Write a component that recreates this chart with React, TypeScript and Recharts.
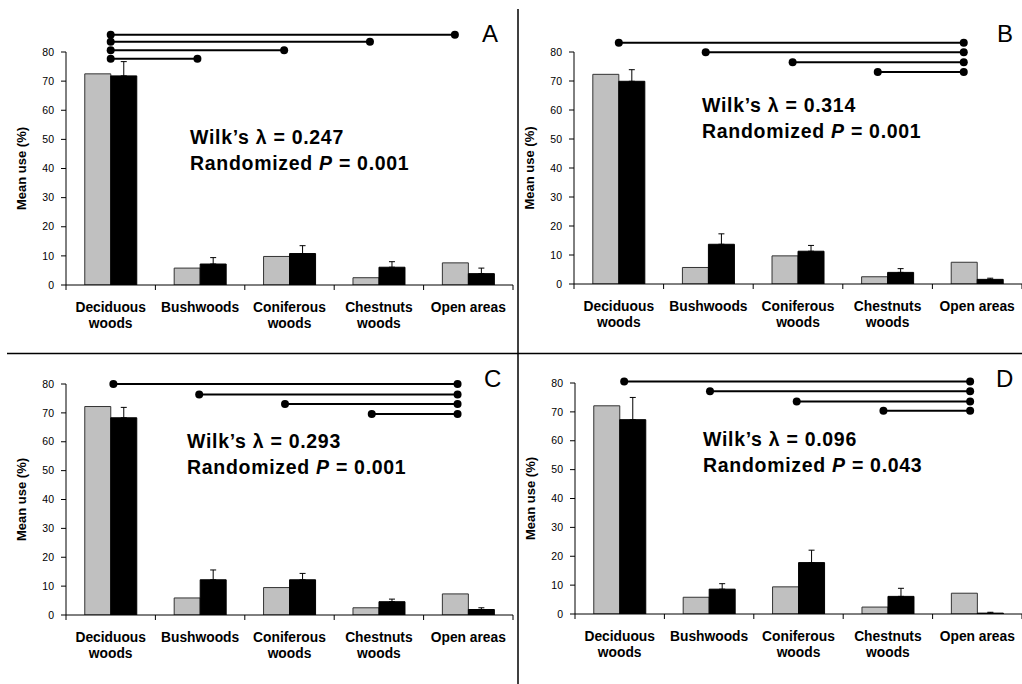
import { BarChart, Bar, XAxis, YAxis, ErrorBar, ScatterChart, ReferenceLine, ReferenceDot } from "recharts"

const FONT = "'Liberation Sans', Arial, sans-serif"

const categories = ["Deciduous woods", "Bushwoods", "Coniferous woods", "Chestnuts woods", "Open areas"]
const tickLines = [["Deciduous", "woods"], ["Bushwoods"], ["Coniferous", "woods"], ["Chestnuts", "woods"], ["Open areas"]]
const yTicks = [0, 10, 20, 30, 40, 50, 60, 70, 80]
const boundaryTicks = [0, 1, 2, 3, 4, 5]

// grey bars = available, black bars = used (+ upper error)
const availableA = [72.5, 5.8, 9.8, 2.5, 7.6]
const usedA = [71.8, 7.2, 10.8, 6.1, 3.9]
const errA = [4.9, 2.2, 2.7, 1.9, 1.9]

const availableB = [72.3, 5.7, 9.7, 2.5, 7.5]
const usedB = [69.9, 13.7, 11.3, 4.0, 1.6]
const errB = [4.0, 3.6, 2.0, 1.3, 0.4]

const availableC = [72.2, 5.9, 9.5, 2.5, 7.3]
const usedC = [68.3, 12.2, 12.2, 4.6, 1.9]
const errC = [3.6, 3.4, 2.2, 0.9, 0.6]

const availableD = [72.1, 5.8, 9.4, 2.4, 7.2]
const usedD = [67.3, 8.6, 17.8, 6.1, 0.3]
const errD = [7.7, 1.9, 4.3, 2.8, 0.3]

// significance brackets: ends in category units (0..5), level in % units
const sigA = [
  { from: 0.5, to: 1.47, level: 77.7 },
  { from: 0.5, to: 2.44, level: 80.6 },
  { from: 0.5, to: 3.4, level: 83.5 },
  { from: 0.5, to: 4.35, level: 85.9 },
]
const sigB = [
  { from: 0.5, to: 4.35, level: 83.2 },
  { from: 1.47, to: 4.35, level: 79.9 },
  { from: 2.44, to: 4.35, level: 76.5 },
  { from: 3.39, to: 4.35, level: 73.1 },
]
const sigC = [
  { from: 0.53, to: 4.38, level: 80.0 },
  { from: 1.49, to: 4.38, level: 76.4 },
  { from: 2.45, to: 4.38, level: 73.1 },
  { from: 3.42, to: 4.38, level: 69.6 },
]
const sigD = [
  { from: 0.55, to: 4.42, level: 80.5 },
  { from: 1.51, to: 4.42, level: 77.1 },
  { from: 2.48, to: 4.42, level: 73.6 },
  { from: 3.45, to: 4.42, level: 70.4 },
]

const panels = [
  { letter: "A", lambda: "0.247", p: "0.001", available: availableA, used: usedA, err: errA, sig: sigA,
    box: { left: 0, top: 0, width: 516, height: 345 }, margin: { top: 52, right: 3, left: 0, bottom: 15 },
    letterPos: [482, 42], textPos: [190, 144, 170] },
  { letter: "B", lambda: "0.314", p: "0.001", available: availableB, used: usedB, err: errB, sig: sigB,
    box: { left: 508, top: 0, width: 514, height: 345 }, margin: { top: 52, right: 0, left: 0, bottom: 16 },
    letterPos: [997, 42], textPos: [702, 111.5, 138] },
  { letter: "C", lambda: "0.293", p: "0.001", available: availableC, used: usedC, err: errC, sig: sigC,
    box: { left: 0, top: 345, width: 516, height: 339 }, margin: { top: 39, right: 3, left: 0, bottom: 24 },
    letterPos: [484, 387], textPos: [187, 447.5, 473.5] },
  { letter: "D", lambda: "0.096", p: "0.043", available: availableD, used: usedD, err: errD, sig: sigD,
    box: { left: 509, top: 345, width: 513, height: 339 }, margin: { top: 38, right: 0, left: 0, bottom: 25 },
    letterPos: [996, 387], textPos: [703, 446, 472] },
]

const Y_AXIS_W = 66
const X_AXIS_H = 45

function CategoryTick(props: any) {
  const { x, y, payload } = props
  const lines = tickLines[categories.indexOf(payload.value)] || [payload.value]
  return (
    <text x={x} y={y + 26.5} textAnchor="middle" fontFamily={FONT} fontWeight="bold" fontSize={13.8} fill="#000">
      {lines.map((l, i) => (
        <tspan key={i} x={x} dy={i === 0 ? 0 : 16.7}>{l}</tspan>
      ))}
    </text>
  )
}

function renderYLabel(props: any) {
  const vb = props.viewBox || { x: 0, y: 0, width: Y_AXIS_W, height: 0 }
  const cx = vb.x + 21.5
  const cy = vb.y + vb.height / 2
  return (
    <text x={cx} y={cy} transform={`rotate(-90 ${cx} ${cy})`} textAnchor="middle" dominantBaseline="central"
      fontFamily={FONT} fontWeight="bold" fontSize={13} fill="#000">
      Mean use (%)
    </text>
  )
}

function Panel({ p }: { p: any }) {
  const rows = categories.map((name, i) => ({
    name,
    available: p.available[i],
    used: p.used[i],
    err: [0, p.err[i]],
  }))
  const overlayMargin = { ...p.margin, left: p.margin.left + Y_AXIS_W }
  return (
    <div style={{ position: "absolute", left: p.box.left, top: p.box.top, width: p.box.width, height: p.box.height }}>
      <BarChart width={p.box.width} height={p.box.height} data={rows} margin={p.margin} barCategoryGap="21%" barGap={0}>
        <XAxis dataKey="name" axisLine={false} tickLine={false} tickSize={0} tickMargin={0}
          height={X_AXIS_H} interval={0} tick={<CategoryTick />} />
        <YAxis domain={[0, 80]} ticks={yTicks} tickSize={5} tickMargin={7} width={Y_AXIS_W} stroke="#000" allowDataOverflow
          tick={{ fontSize: 10.5, fill: "#000", fontFamily: FONT }} label={renderYLabel} />
        <Bar dataKey="available" fill="#c0c0c0" stroke="#333" strokeWidth={1} isAnimationActive={false} />
        <Bar dataKey="used" fill="#000" stroke="#000" strokeWidth={1} isAnimationActive={false}>
          <ErrorBar dataKey="err" direction="y" width={3} stroke="#000" strokeWidth={1} />
        </Bar>
      </BarChart>
      <div style={{ position: "absolute", left: 0, top: 0 }}>
        <ScatterChart width={p.box.width} height={p.box.height} margin={overlayMargin}>
          <XAxis type="number" dataKey="x" domain={[0, 5]} ticks={boundaryTicks} allowDataOverflow
            tickFormatter={() => ""} tickSize={5} height={X_AXIS_H} stroke="#000" />
          <YAxis type="number" dataKey="y" domain={[0, 80]} allowDataOverflow hide />
          {p.sig.map((s: any, i: number) => (
            <ReferenceLine key={"l" + i} ifOverflow="visible" stroke="#000" strokeWidth={2}
              segment={[{ x: s.from, y: s.level }, { x: s.to, y: s.level }]} />
          ))}
          {p.sig.flatMap((s: any, i: number) =>
            [s.from, s.to].map((x: number, j: number) => (
              <ReferenceDot key={"d" + i + "-" + j} x={x} y={s.level} r={4} fill="#000" stroke="none"
                ifOverflow="visible" />
            ))
          )}
        </ScatterChart>
      </div>
    </div>
  )
}

export default function App() {
  return (
    <div style={{ position: "absolute", left: 0, top: 0, width: 1022, height: 684, background: "#fff", overflow: "hidden" }}>
      {panels.map((p) => (
        <Panel key={p.letter} p={p} />
      ))}
      <svg width={1022} height={684} style={{ position: "absolute", left: 0, top: 0, pointerEvents: "none" }}>
        <line x1={518} y1={9} x2={518} y2={684} stroke="#000" strokeWidth={1.5} />
        <line x1={7} y1={353.5} x2={1022} y2={353.5} stroke="#000" strokeWidth={1.5} />
        {panels.map((p) => (
          <g key={p.letter} fontFamily={FONT} fill="#000">
            <text x={p.letterPos[0]} y={p.letterPos[1]} fontSize={24}>{p.letter}</text>
            <text x={p.textPos[0]} y={p.textPos[1]} fontSize={19.5} fontWeight="bold" letterSpacing={0.7}>
              {"Wilk\u2019s \u03bb = " + p.lambda}
            </text>
            <text x={p.textPos[0]} y={p.textPos[2]} fontSize={19.5} fontWeight="bold" letterSpacing={0.7}>
              {"Randomized "}
              <tspan fontStyle="italic">P</tspan>
              {" = " + p.p}
            </text>
          </g>
        ))}
      </svg>
    </div>
  )
}
